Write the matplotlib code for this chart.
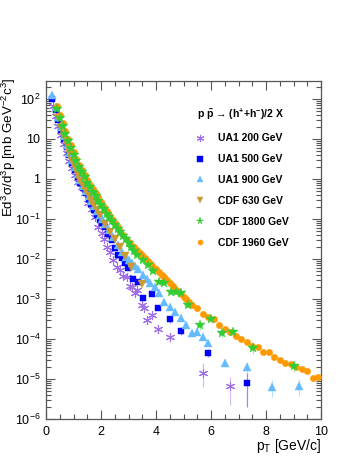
import numpy as np
import matplotlib
matplotlib.use('Agg')
import matplotlib.pyplot as plt

plt.rcParams['font.family'] = ['Liberation Sans', 'DejaVu Sans']
plt.rcParams['mathtext.fontset'] = 'custom'
plt.rcParams['mathtext.rm'] = 'Liberation Sans'
plt.rcParams['mathtext.it'] = 'Liberation Sans:italic'
plt.rcParams['mathtext.bf'] = 'Liberation Sans:bold'
plt.rcParams['mathtext.default'] = 'regular'

# datos (log10 del valor)
#UA1 200 GeV
pt_ua1_200 = [0.27,0.35,0.45,0.55,0.65,0.75,0.85,0.95,1.05,1.17,1.30,1.42,1.54,1.66,1.78,1.90,2.02,2.10,2.21,2.33,
              2.45,2.59,2.69,2.81,2.93,3.05,3.12,3.24,3.32,3.48,3.56,3.66,3.84,4.08,4.50,5.70,6.70]
log_ua1_200 = [1.81,1.58,1.33,1.09,0.87,0.66,0.46,0.27,0.10,-0.07,-0.19,-0.36,-0.59,-0.76,-0.94,-1.19,-1.36,-1.50,-1.69,-1.82,
               -2.02,-2.21,-2.28,-2.43,-2.46,-2.68,-2.71,-2.85,-2.78,-3.15,-3.23,-3.53,-3.40,-3.75,-3.95,-4.86,-5.18]
errlo_ua1_200 = [0.10,0.10,0.12,0.35,0.47]
errhi_ua1_200 = [0.08,0.08,0.10,0.25,0.22]

#UA1 500 GeV
pt_ua1_500 = [0.23,0.35,0.45,0.55,0.65,0.75,0.85,0.95,1.05,1.15,1.25,1.35,1.45,1.55,1.65,1.75,1.85,1.95,2.05,2.15,
              2.27,2.39,2.51,2.63,2.75,2.87,2.99,3.15,3.36,3.54,3.84,4.08,4.51,4.90,5.90,7.30]
log_ua1_500 = [1.99,1.72,1.47,1.23,1.00,0.79,0.59,0.40,0.22,0.05,-0.10,-0.23,-0.36,-0.49,-0.63,-0.77,-0.90,-1.02,-1.11,-1.20,
               -1.37,-1.53,-1.72,-1.90,-1.98,-2.09,-2.22,-2.51,-2.58,-2.98,-2.87,-3.22,-3.51,-3.79,-4.34,-5.09]
errlo_ua1_500 = [0.08,0.10,0.12,0.60]
errhi_ua1_500 = [0.07,0.08,0.10,0.25]

#UA1 900 GeV
pt_ua1_900 = [0.23,0.35,0.45,0.55,0.65,0.75,0.85,0.95,1.05,1.15,1.25,1.35,1.45,1.55,1.65,1.75,1.85,1.95,2.05,2.15,
              2.30,2.45,2.60,2.75,2.90,3.00,3.12,3.24,3.36,3.54,3.66,3.78,3.96,4.12,4.29,4.51,4.70,4.90,5.09,5.30,
              5.50,5.70,5.90,6.51,7.30,8.21,9.21]
log_ua1_900 = [2.10,1.80,1.55,1.30,1.07,0.86,0.66,0.47,0.29,0.12,-0.03,-0.17,-0.30,-0.43,-0.55,-0.67,-0.79,-0.90,-1.01,-1.12,
               -1.28,-1.45,-1.65,-1.82,-1.95,-2.03,-2.11,-2.18,-2.26,-2.40,-2.50,-2.61,-2.71,-2.86,-3.07,-3.20,-3.32,-3.47,-3.64,-3.86,
               -3.82,-3.96,-4.11,-4.61,-4.69,-5.21,-5.18]
errlo_ua1_900 = [0.10,0.15,0.25,0.25]
errhi_ua1_900 = [0.08,0.12,0.18,0.18]

#CDF 630 GeV
pt_cdf_630 = [0.45,0.55,0.65,0.75,0.85,0.95,1.05,1.15,1.25,1.35,1.45,1.55,1.65,1.75,1.85,1.95,2.15,2.33,2.50,2.69,2.87,3.10,3.48]
log_cdf_630 = [1.52,1.28,1.05,0.84,0.64,0.45,0.27,0.10,-0.05,-0.18,-0.30,-0.42,-0.54,-0.66,-0.78,-0.90,-1.12,-1.33,-1.50,-1.70,-1.92,-2.20,-2.63]

#CDF 1800 GeV
pt_cdf_1800 = [0.4,0.5,0.6,0.7,0.8,0.9,1.0,1.1,1.2,1.3,1.4,1.5,1.6,1.7,1.8,1.9,2.0,2.1,2.2,2.3,2.4,2.5,2.6,2.7,2.8,2.9,3.0,3.1,3.2,
               3.30,3.52,3.72,3.90,4.12,4.30,4.53,4.73,4.92,5.18,5.60,5.99,6.41,6.81,7.51,9.02]
log_cdf_1800 = [1.75,1.53,1.32,1.13,0.95,0.78,0.61,0.45,0.31,0.17,0.04,-0.09,-0.21,-0.32,-0.43,-0.54,-0.65,-0.76,-0.87,-0.96,
                -1.06,-1.16,-1.25,-1.33,-1.42,-1.51,-1.60,-1.70,-1.80,
                -1.90,-2.03,-2.15,-2.29,-2.57,-2.59,-2.82,-2.82,-2.86,-3.14,-3.65,-3.50,-3.84,-3.83,-4.22,-4.68]
errlo_cdf_1800 = [0.12,0.10,0.12,0.12,0.15,0.15]
errhi_cdf_1800 = [0.10,0.08,0.10,0.10,0.12,0.12]

#CDF 1960 GeV
pt_cdf_1960 = [0.4,0.5,0.6,0.7,0.8,0.9,1.0,1.1,1.2,1.3,1.4,1.5,1.6,1.7,1.8,1.9,2.0,2.1,2.2,2.3,2.4,2.5,2.6,2.7,2.8,2.9,
               3.0,3.1,3.2,3.3,3.4,3.5,3.6,3.7,3.8,3.9,4.0,4.1,4.2,4.3,4.4,4.5,4.6,4.7,4.8,4.9,5.0,5.1,5.2,
               5.3,5.5,5.7,5.9,6.1,6.3,6.5,6.7,6.9,7.1,7.3,7.5,7.7,7.9,8.1,8.3,8.5,8.7,8.9,9.1,9.3,9.5,9.7,9.9]
log_cdf_1960 = [1.82,1.60,1.39,1.19,1.01,0.84,0.67,0.50,0.36,0.23,0.10,-0.03,-0.14,-0.25,-0.36,-0.46,-0.57,-0.69,-0.81,-0.91,
                -1.01,-1.11,-1.20,-1.29,-1.39,-1.49,-1.57,-1.64,-1.71,-1.78,-1.85,-1.91,-1.98,-2.05,-2.12,-2.19,-2.25,-2.32,
                -2.39,-2.46,-2.53,-2.60,-2.67,-2.74,-2.81,-2.88,-2.94,-3.00,-3.07,
                -3.15,-3.23,-3.38,-3.46,-3.51,-3.65,-3.75,-3.82,-3.92,-4.00,-4.08,-4.17,-4.19,-4.32,-4.32,-4.46,-4.53,
                -4.59,-4.63,-4.69,-4.76,-4.79,-4.97,-4.96]

series = [
    (pt_ua1_200, log_ua1_200, errlo_ua1_200, errhi_ua1_200, 'UA1 200 GeV', (6, 2, 0), '#a070e8', 6.5, 2),
    (pt_ua1_500, log_ua1_500, errlo_ua1_500, errhi_ua1_500, 'UA1 500 GeV', 's', '#0000ff', 5, 3),
    (pt_ua1_900, log_ua1_900, errlo_ua1_900, errhi_ua1_900, 'UA1 900 GeV', '^', '#66bbff', 5.5, 4),
    (pt_cdf_630, log_cdf_630, [], [], 'CDF 630 GeV', 'v', '#cc9933', 5.5, 5),
    (pt_cdf_1800, log_cdf_1800, errlo_cdf_1800, errhi_cdf_1800, 'CDF 1800 GeV', '*', '#33cc33', 7, 7),
    (pt_cdf_1960, log_cdf_1960, [], [], 'CDF 1960 GeV', 'o', '#ff9900', 4.6, 6),
]

fig = plt.figure(figsize=(3.54, 4.58), dpi=100)
ax = fig.add_axes([46/354, 1-419/458, 275/354, 338/458])

handles = []
for pt, lg, elo, ehi, lab, mk, col, ms, z in series:
    x = np.array(pt)
    y = np.power(10.0, np.array(lg))
    if len(elo) > 0:
        n = len(elo)
        ylo = y[-n:] - np.power(10.0, np.array(lg[-n:]) - np.array(elo))
        yhi = np.power(10.0, np.array(lg[-n:]) + np.array(ehi)) - y[-n:]
        ax.errorbar(x[-n:], y[-n:], yerr=[ylo, yhi], fmt='none', ecolor=col, alpha=0.45, lw=0.9, zorder=z-0.5)
    if mk == (6, 2, 0):
        h, = ax.plot(x, y, ls='none', marker=mk, ms=ms, mec=col, mew=0.8, zorder=z)
    else:
        h, = ax.plot(x, y, ls='none', marker=mk, ms=ms, color=col, mec=col, mew=0.3, zorder=z)
    handles.append((h, lab))

ax.set_yscale('log')
ax.set_xlim(0, 10)
ax.set_ylim(1e-6, 2.8e2)

ax.set_xticks([0, 2, 4, 6, 8, 10])
ax.set_xticks(np.arange(0, 10.01, 0.5), minor=True)
dec = [1e-6, 1e-5, 1e-4, 1e-3, 1e-2, 1e-1, 1, 10, 100]
declab = ['10$^{-6}$', '10$^{-5}$', '10$^{-4}$', '10$^{-3}$', '10$^{-2}$', '10$^{-1}$', '1', '10', '10$^{2}$']
ax.set_yticks(dec)
ax.set_yticklabels(declab)
ax.yaxis.set_minor_locator(matplotlib.ticker.LogLocator(base=10, subs=np.arange(2, 10), numticks=20))
ax.yaxis.set_minor_formatter(matplotlib.ticker.NullFormatter())

ax.tick_params(which='both', direction='in', top=True, right=True, color='#555555', labelsize=9)
ax.tick_params(which='major', length=6.5, width=0.8)
ax.tick_params(which='minor', length=3.3, width=0.8)
ax.tick_params(axis='x', pad=5)
ax.tick_params(axis='y', pad=4)
for s in ax.spines.values():
    s.set_color('#555555')
    s.set_linewidth(0.9)

ax.set_xlabel('p$_{T}$ [GeV/c]', fontsize=10, loc='right')
ax.xaxis.set_label_coords(1.0, -0.053)
fig.text(9/354, 1-78/458, 'Ed$^{3}$σ/d$^{3}$p [mb GeV$^{-2}$c$^{3}$]', fontsize=9.6,
         rotation=90, ha='center', va='top')

leg = ax.legend([h for h, l in handles], [l for h, l in handles],
                title=r'p $\mathbf{\bar{p}}$ → (h$^{\mathbf{+}}$+h$^{\mathbf{-}}$)/2 X',
                loc='upper left', bbox_to_anchor=(197/354, 1-107/458), bbox_transform=fig.transFigure,
                frameon=False, prop={'weight': 'bold', 'size': 7.5},
                title_fontproperties={'weight': 'bold', 'size': 7.5}, alignment='left',
                handlelength=0.6, handletextpad=1.4, labelspacing=1.05, borderpad=0, borderaxespad=0,
                markerscale=0.8)

fig.savefig('out.png', dpi=100)
